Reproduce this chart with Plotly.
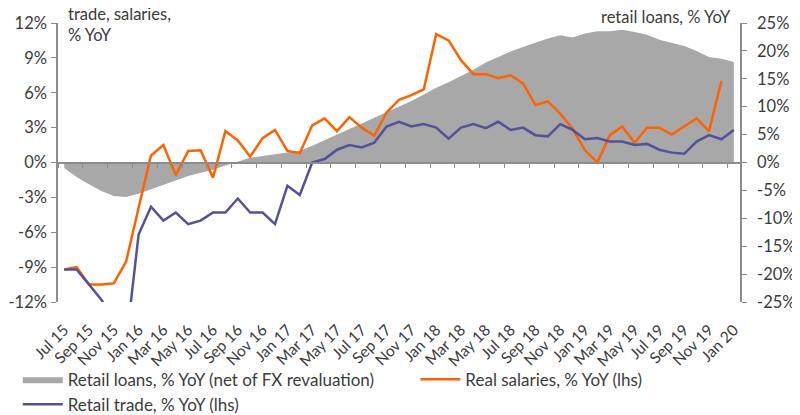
import plotly.graph_objects as go

months = ["Jul 15", "Aug 15", "Sep 15", "Oct 15", "Nov 15", "Dec 15",
          "Jan 16", "Feb 16", "Mar 16", "Apr 16", "May 16", "Jun 16",
          "Jul 16", "Aug 16", "Sep 16", "Oct 16", "Nov 16", "Dec 16",
          "Jan 17", "Feb 17", "Mar 17", "Apr 17", "May 17", "Jun 17",
          "Jul 17", "Aug 17", "Sep 17", "Oct 17", "Nov 17", "Dec 17",
          "Jan 18", "Feb 18", "Mar 18", "Apr 18", "May 18", "Jun 18",
          "Jul 18", "Aug 18", "Sep 18", "Oct 18", "Nov 18", "Dec 18",
          "Jan 19", "Feb 19", "Mar 19", "Apr 19", "May 19", "Jun 19",
          "Jul 19", "Aug 19", "Sep 19", "Oct 19", "Nov 19", "Dec 19",
          "Jan 20"]

# retail loans, % YoY (rhs)
retail_loans = [-1.0, -2.6, -3.9, -5.1, -6.0, -6.2, -5.6, -4.8, -3.9, -3.1,
                -2.4, -1.85, -1.3, -0.55, 0.2, 0.85, 1.15, 1.5, 1.8, 2.1,
                3.0, 4.0, 5.0, 6.0, 7.0, 8.0, 9.0, 10.0, 11.0, 12.2,
                13.4, 14.4, 15.5, 16.6, 17.9, 18.9, 19.9, 20.7, 21.5, 22.2,
                22.8, 22.4, 23.1, 23.5, 23.5, 23.8, 23.4, 22.9, 22.0, 21.4,
                20.9, 20.0, 18.9, 18.6, 18.0]

# real salaries, % YoY (lhs)
real_salaries = [-9.2, -9.0, -10.5, -10.5, -10.4, -8.5, -3.9, 0.6, 1.5, -1.1,
                 1.0, 1.05, -1.3, 2.7, 1.9, 0.5, 2.1, 2.8, 1.0, 0.8,
                 3.2, 3.8, 2.7, 3.9, 3.0, 2.3, 4.3, 5.4, 5.8, 6.3,
                 11.05, 10.5, 8.8, 7.6, 7.6, 7.25, 7.5, 6.8, 4.95, 5.25,
                 4.2, 2.9, 1.05, 0.0, 2.35, 3.1, 1.7, 3.0, 3.0, 2.4,
                 3.1, 3.8, 2.7, 7.0, None]

# retail trade, % YoY (lhs)
retail_trade = [-9.2, -9.2, -10.5, -11.8, -13.5, -15.5, -6.2, -3.8, -5.0, -4.3,
                -5.3, -5.0, -4.3, -4.3, -3.1, -4.3, -4.3, -5.3, -2.0, -2.8,
                0.0, 0.3, 1.1, 1.5, 1.3, 1.7, 3.1, 3.5, 3.1, 3.3,
                3.0, 2.05, 3.0, 3.3, 2.95, 3.5, 2.8, 3.0, 2.35, 2.25,
                3.3, 2.8, 2.0, 2.1, 1.8, 1.8, 1.5, 1.6, 1.1, 0.85,
                0.75, 1.8, 2.35, 2.0, 2.8]

lhs_ticks = [-12, -9, -6, -3, 0, 3, 6, 9, 12]
lhs_labels = ["-12%", "-9%", "-6%", "-3%", "0%", "3%", "6%", "9%", "12%"]
rhs_ticks = [-25, -20, -15, -10, -5, 0, 5, 10, 15, 20, 25]
rhs_labels = ["-25%", "-20%", "-15%", "-10%", "-5%", "0%", "5%", "10%", "15%", "20%", "25%"]

x = list(range(len(months)))
txt = "#3c3c3c"
axc = "#8c8c8c"
font = "Lato"

fig = go.Figure()

fig.add_trace(go.Scatter(x=x, y=retail_loans, name="Retail loans, % YoY (net of FX revaluation)",
                         mode="lines", fill="tozeroy", fillcolor="#a8a8a8",
                         line=dict(width=0, color="#a8a8a8"), xaxis="x", yaxis="y",
                         legend="legend"))
fig.add_trace(go.Scatter(x=x, y=real_salaries, name="Real salaries, % YoY (lhs)",
                         mode="lines", line=dict(color="#ff6200", width=2.5),
                         xaxis="x2", yaxis="y2", legend="legend2"))
fig.add_trace(go.Scatter(x=x, y=retail_trade, name="Retail trade, % YoY (lhs)",
                         mode="lines", line=dict(color="#525199", width=2.5),
                         xaxis="x2", yaxis="y2", legend="legend"))

# page body has an 8px margin, so the figure is 792x407 and starts at (8, 8)
# plot area on screen: left 58.3, right 740.5, top 22.5, bottom 302.5
fig.update_layout(
    width=792, height=407,
    margin=dict(l=50.3, r=59.5, t=14.5, b=112.5, autoexpand=False),
    paper_bgcolor="white", plot_bgcolor="rgba(0,0,0,0)",
    font=dict(family=font, size=17, color=txt),
    showlegend=True,
    legend=dict(orientation="v", x=-0.059, y=-0.214, xanchor="left", yanchor="top",
                tracegroupgap=0, font=dict(size=17, color=txt), itemwidth=40,
                bgcolor="rgba(0,0,0,0)"),
    legend2=dict(orientation="v", x=0.524, y=-0.214, xanchor="left", yanchor="top",
                 font=dict(size=17, color=txt), itemwidth=40, bgcolor="rgba(0,0,0,0)"),
    xaxis=dict(range=[-0.5, 54.5], anchor="y",
               tickvals=x[::2], ticktext=months[::2], tickangle=-45,
               showline=False, ticks="", showgrid=False, zeroline=False,
               ticklabelstandoff=15, tickfont=dict(size=15.5, color=txt)),
    yaxis=dict(range=[-25, 25], tickvals=rhs_ticks, ticktext=rhs_labels,
               side="right", anchor="x",
               showline=True, linecolor=axc, linewidth=1.5,
               ticks="outside", ticklen=5, tickcolor=axc, showgrid=False, zeroline=False,
               ticklabelstandoff=7, tickfont=dict(size=16.5, color=txt)),
    xaxis2=dict(range=[-0.5, 54.5], overlaying="x", anchor="free", position=0.5,
                tickvals=[v - 0.5 for v in x[::2]],
                showticklabels=False, ticks="outside", ticklen=5, tickcolor=axc,
                showline=True, linecolor=axc, linewidth=1.5, showgrid=False, zeroline=False),
    yaxis2=dict(range=[-12, 12], tickvals=lhs_ticks, ticktext=lhs_labels,
                side="left", overlaying="y", anchor="x2",
                showline=True, linecolor=axc, linewidth=1.5,
                ticks="outside", ticklen=5, tickcolor=axc, showgrid=False, zeroline=False,
                ticklabelstandoff=1, tickfont=dict(size=16.5, color=txt)),
)

fig.add_annotation(text="trade, salaries,<br>% YoY", xref="paper", yref="paper",
                   x=0.012, y=0.996, xanchor="left", yanchor="middle", align="left",
                   showarrow=False, font=dict(size=16.5, color=txt))
fig.add_annotation(text="retail loans, % YoY", xref="paper", yref="paper",
                   x=0.99, y=1.02, xanchor="right", yanchor="middle",
                   showarrow=False, font=dict(size=16.5, color=txt))

fig.write_html("out.html")
